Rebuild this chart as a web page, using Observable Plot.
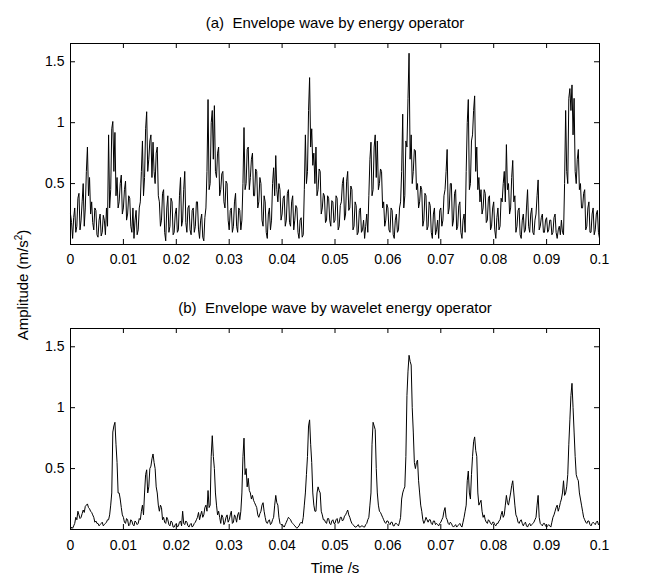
<!DOCTYPE html>
<html>
<head>
<meta charset="utf-8">
<script src="https://cdn.jsdelivr.net/npm/d3@7"></script>
<script src="https://cdn.jsdelivr.net/npm/@observablehq/plot@0.6"></script>
<style>
  html, body { margin: 0; padding: 0; background: #fff; }
  #wrap { position: relative; width: 646px; height: 579px; overflow: hidden; font-family: "Liberation Sans", Arial, sans-serif; }
  #top, #bot { position: absolute; left: 0; }
  #top { top: 0; }
  #bot { top: 290px; }
  #ylab { position: absolute; left: 22px; top: 285px; transform: translate(-50%, -50%) rotate(-90deg); white-space: nowrap; font-size: 15px; color: #000; }
  #ylab sup { font-size: 10px; }
</style>
</head>
<body>
<div id="wrap">
  <div id="top"></div>
  <div id="bot"></div>
  <div id="ylab">Amplitude (m/s<sup>2</sup>)</div>
</div>
<script>
const tStart = 0, tEnd = 0.1;
const xTicks = [0, 0.01, 0.02, 0.03, 0.04, 0.05, 0.06, 0.07, 0.08, 0.09, 0.1];
const yTicks = [0.5, 1, 1.5];
const titleA = "(a)  Envelope wave by energy operator";
const titleB = "(b)  Envelope wave by wavelet energy operator";
const xLabel = "Time /s";

// (a) envelope by energy operator (uniformly sampled over 0 .. 0.1 s)
const envEnergy = [
  0.25,0.18,0.05,0.22,0.3,0.1,0.15,0.38,0.42,0.12,0.2,0.35,0.5,0.15,0.3,0.6,0.8,0.4,0.55,0.25,0.35,0.18,0.12,0.3,0.28,0.08,0.06,0.2,0.25,0.07,0.1,0.24,0.2,0.08,0.3,0.15,0.9,0.3,0.45,0.95,1.01,0.6,0.92,0.4,0.55,0.3,0.35,0.5,0.57,0.25,
  0.3,0.45,0.52,0.2,0.25,0.4,0.38,0.15,0.1,0.3,0.05,0.2,0.28,0.08,0.12,0.3,0.35,0.6,0.85,0.4,0.55,0.95,1.09,0.6,0.7,0.85,0.9,0.55,0.84,0.6,0.5,0.75,0.8,0.4,0.35,0.15,0.2,0.42,0.45,0.1,0.03,0.3,0.4,0.1,0.15,0.38,0.35,0.08,0.1,0.25,
  0.3,0.1,0.12,0.4,0.55,0.15,0.2,0.45,0.6,0.18,0.1,0.3,0.32,0.12,0.08,0.28,0.3,0.1,0.15,0.35,0.35,0.12,0.05,0.2,0.25,0.06,0.03,0.22,0.3,0.6,1.19,0.45,0.5,1.0,1.1,0.7,1.14,0.6,0.55,0.75,0.8,0.4,0.45,0.58,0.6,0.35,0.3,0.52,0.5,0.2,
  0.12,0.28,0.3,0.1,0.15,0.35,0.42,0.15,0.1,0.3,0.28,0.12,0.2,0.5,0.96,0.45,0.5,0.78,0.8,0.45,0.55,0.7,0.75,0.4,0.4,0.62,0.6,0.3,0.35,0.55,0.5,0.2,0.15,0.4,0.35,0.1,0.05,0.25,0.3,0.12,0.2,0.5,0.63,0.4,0.73,0.45,0.35,0.5,0.45,0.2,
  0.25,0.38,0.4,0.15,0.2,0.42,0.45,0.18,0.15,0.35,0.4,0.12,0.2,0.32,0.3,0.1,0.05,0.2,0.22,0.06,0.08,0.45,0.9,0.5,0.6,1.1,1.37,0.8,0.95,0.65,0.75,0.5,0.8,0.4,0.45,0.62,0.6,0.25,0.3,0.42,0.4,0.18,0.2,0.4,0.38,0.2,0.15,0.36,0.35,0.18,
  0.2,0.4,0.38,0.12,0.15,0.32,0.35,0.5,0.55,0.2,0.25,0.52,0.6,0.28,0.3,0.48,0.45,0.12,0.15,0.35,0.32,0.08,0.1,0.28,0.3,0.1,0.12,0.2,0.05,0.15,0.25,0.1,0.4,0.7,0.84,0.4,0.45,0.8,0.9,0.55,0.85,0.45,0.5,0.62,0.6,0.3,0.35,0.15,0.2,0.33,
  0.3,0.12,0.1,0.3,0.28,0.08,0.05,0.2,0.25,0.1,0.12,0.3,0.35,0.6,1.07,0.3,0.4,0.85,0.8,1.2,1.57,0.7,0.9,0.5,0.6,0.78,0.77,0.45,0.5,0.3,0.35,0.48,0.45,0.15,0.2,0.42,0.4,0.12,0.15,0.35,0.32,0.1,0.05,0.25,0.3,0.08,0.12,0.2,0.05,0.28,
  0.3,0.15,0.2,0.4,0.45,0.6,0.78,0.25,0.3,0.5,0.5,0.15,0.2,0.42,0.45,0.12,0.15,0.32,0.35,0.1,0.05,0.2,0.25,0.1,0.6,1.0,1.19,0.45,0.5,0.85,0.9,1.1,1.22,0.6,0.8,0.45,0.55,0.35,0.45,0.25,0.3,0.45,0.42,0.18,0.2,0.38,0.4,0.12,0.15,0.3,
  0.35,0.12,0.05,0.22,0.3,0.12,0.15,0.38,0.35,0.5,0.6,0.35,0.82,0.45,0.5,0.25,0.3,0.55,0.69,0.35,0.4,0.1,0.15,0.28,0.3,0.08,0.05,0.2,0.25,0.1,0.12,0.3,0.45,0.15,0.1,0.25,0.3,0.1,0.08,0.2,0.25,0.4,0.53,0.12,0.15,0.22,0.25,0.1,0.1,0.2,
  0.22,0.1,0.12,0.2,0.2,0.08,0.1,0.22,0.25,0.1,0.05,0.12,0.15,0.08,0.2,0.1,0.08,0.5,1.1,0.6,0.5,1.2,1.28,1.1,1.31,0.9,1.2,0.6,0.5,0.7,0.78,0.45,0.5,0.3,0.3,0.42,0.45,0.12,0.15,0.3,0.35,0.1,0.1,0.25,0.3,0.08,0.12,0.25,0.28,0.1,0.05
];

// (b) envelope by wavelet energy operator (uniformly sampled over 0 .. 0.1 s)
const envWavelet = [
  0.0,0.02,0.01,0.03,0.05,0.1,0.08,0.15,0.12,0.09,0.1,0.13,0.16,0.14,0.19,0.2,0.21,0.18,0.17,0.15,0.14,0.12,0.1,0.06,0.07,0.05,0.05,0.03,0.04,0.05,0.06,0.03,0.04,0.05,0.06,0.08,0.08,0.12,0.2,0.3,0.8,0.85,0.88,0.7,0.55,0.3,0.3,0.25,0.18,0.12,
  0.1,0.06,0.05,0.09,0.08,0.03,0.04,0.08,0.07,0.04,0.03,0.07,0.06,0.04,0.05,0.09,0.08,0.15,0.2,0.12,0.3,0.45,0.49,0.3,0.35,0.5,0.52,0.58,0.62,0.55,0.5,0.35,0.3,0.2,0.15,0.2,0.18,0.08,0.1,0.06,0.05,0.1,0.08,0.04,0.03,0.07,0.06,0.02,0.02,0.04,
  0.05,0.02,0.03,0.06,0.07,0.03,0.15,0.05,0.04,0.07,0.06,0.03,0.02,0.04,0.05,0.02,0.03,0.05,0.06,0.08,0.1,0.14,0.08,0.12,0.15,0.1,0.12,0.18,0.2,0.15,0.32,0.18,0.2,0.6,0.77,0.6,0.5,0.3,0.2,0.12,0.15,0.1,0.05,0.12,0.1,0.04,0.06,0.1,0.12,0.06,
  0.08,0.12,0.15,0.05,0.06,0.12,0.1,0.06,0.12,0.14,0.08,0.15,0.3,0.6,0.75,0.45,0.5,0.35,0.42,0.32,0.3,0.25,0.28,0.24,0.22,0.2,0.18,0.12,0.1,0.13,0.15,0.2,0.22,0.15,0.1,0.06,0.05,0.07,0.08,0.04,0.05,0.08,0.1,0.2,0.28,0.22,0.2,0.1,0.05,0.04,
  0.04,0.03,0.02,0.04,0.06,0.08,0.1,0.09,0.08,0.06,0.05,0.04,0.03,0.02,0.01,0.02,0.03,0.05,0.06,0.05,0.1,0.2,0.3,0.45,0.6,0.85,0.9,0.7,0.55,0.3,0.2,0.15,0.15,0.3,0.35,0.32,0.3,0.15,0.12,0.08,0.08,0.06,0.05,0.09,0.09,0.05,0.04,0.07,0.08,0.05,
  0.05,0.08,0.09,0.05,0.06,0.1,0.1,0.07,0.08,0.11,0.12,0.14,0.16,0.12,0.1,0.07,0.05,0.04,0.03,0.02,0.02,0.03,0.04,0.02,0.02,0.03,0.03,0.02,0.02,0.04,0.05,0.08,0.1,0.2,0.3,0.7,0.88,0.85,0.82,0.5,0.3,0.2,0.15,0.14,0.12,0.1,0.08,0.06,0.05,0.07,
  0.07,0.05,0.04,0.06,0.06,0.03,0.03,0.05,0.05,0.04,0.03,0.06,0.1,0.25,0.3,0.33,0.35,0.6,1.1,1.3,1.43,1.38,1.35,1.0,0.8,0.55,0.5,0.55,0.57,0.4,0.3,0.2,0.15,0.08,0.05,0.07,0.1,0.08,0.06,0.08,0.08,0.05,0.04,0.07,0.07,0.04,0.05,0.04,0.03,0.05,
  0.06,0.08,0.1,0.15,0.18,0.1,0.08,0.05,0.04,0.06,0.05,0.03,0.02,0.03,0.04,0.02,0.03,0.04,0.05,0.03,0.02,0.06,0.1,0.15,0.2,0.4,0.48,0.3,0.25,0.45,0.6,0.72,0.76,0.65,0.6,0.3,0.2,0.22,0.24,0.15,0.1,0.12,0.08,0.06,0.05,0.08,0.07,0.05,0.04,0.06,
  0.06,0.04,0.03,0.05,0.05,0.07,0.08,0.12,0.15,0.1,0.12,0.2,0.28,0.22,0.2,0.25,0.3,0.36,0.4,0.3,0.2,0.12,0.1,0.06,0.05,0.07,0.08,0.05,0.03,0.05,0.06,0.03,0.02,0.04,0.05,0.03,0.04,0.05,0.06,0.08,0.1,0.2,0.28,0.1,0.05,0.04,0.03,0.05,0.05,0.03,
  0.02,0.03,0.04,0.03,0.02,0.06,0.1,0.12,0.15,0.18,0.2,0.15,0.18,0.22,0.25,0.3,0.4,0.28,0.3,0.35,0.45,0.7,0.9,1.1,1.2,1.0,0.8,0.6,0.45,0.42,0.4,0.3,0.25,0.2,0.15,0.1,0.08,0.06,0.05,0.07,0.07,0.04,0.03,0.05,0.06,0.05,0.04,0.06,0.07,0.04,0.05
];

const W = 646;
const mL = 70, mR = 47;
const font = "'Liberation Sans', Arial, sans-serif";

function panel(values, title, opts) {
  const step = (tEnd - tStart) / (values.length - 1);
  const data = values.map((v, i) => ({t: tStart + i * step, v}));
  const H = opts.height, mT = opts.marginTop, mB = opts.marginBottom;
  const ph = H - mT - mB, pw = W - mL - mR;
  const marks = [
    Plot.line(data, {x: "t", y: "v", stroke: "#000", strokeWidth: 1}),
    Plot.frame({stroke: "#000", strokeWidth: 1}),
    // inward ticks: bottom, top, left, right
    Plot.tickX(xTicks, {x: d => d, stroke: "#000", insetTop: ph - 5}),
    Plot.tickX(xTicks, {x: d => d, stroke: "#000", insetBottom: ph - 5}),
    Plot.tickY(yTicks, {y: d => d, stroke: "#000", insetRight: pw - 5}),
    Plot.tickY(yTicks, {y: d => d, stroke: "#000", insetLeft: pw - 5}),
    Plot.axisX({anchor: "bottom", ticks: xTicks, tickSize: 0, tickPadding: opts.xPad, tickFormat: d => String(d), fontSize: 14, label: null}),
    Plot.axisY({anchor: "left", ticks: yTicks, tickSize: 0, tickPadding: 6, tickFormat: d => String(d), fontSize: 14, label: null}),
    Plot.text([title], {frameAnchor: "top", dy: -20, text: d => d, fontSize: 15, fill: "#000", lineAnchor: "middle"})
  ];
  if (opts.xLabel) marks.push(Plot.text([opts.xLabel], {frameAnchor: "bottom", dy: 39, text: d => d, fontSize: 15, fill: "#000", lineAnchor: "middle"}));
  return Plot.plot({
    width: W, height: H,
    marginLeft: mL, marginRight: mR, marginTop: mT, marginBottom: mB,
    style: {fontFamily: font, fontSize: "14px", color: "#000", background: "#fff"},
    x: {domain: [tStart, tEnd]},
    y: {domain: [0, 1.65]},
    marks
  });
}

document.getElementById("top").appendChild(panel(envEnergy, titleA, {height: 290, marginTop: 43, marginBottom: 46, xPad: 10}));
document.getElementById("bot").appendChild(panel(envWavelet, titleB, {height: 289, marginTop: 38, marginBottom: 50, xPad: 11, xLabel}));
</script>
</body>
</html>
